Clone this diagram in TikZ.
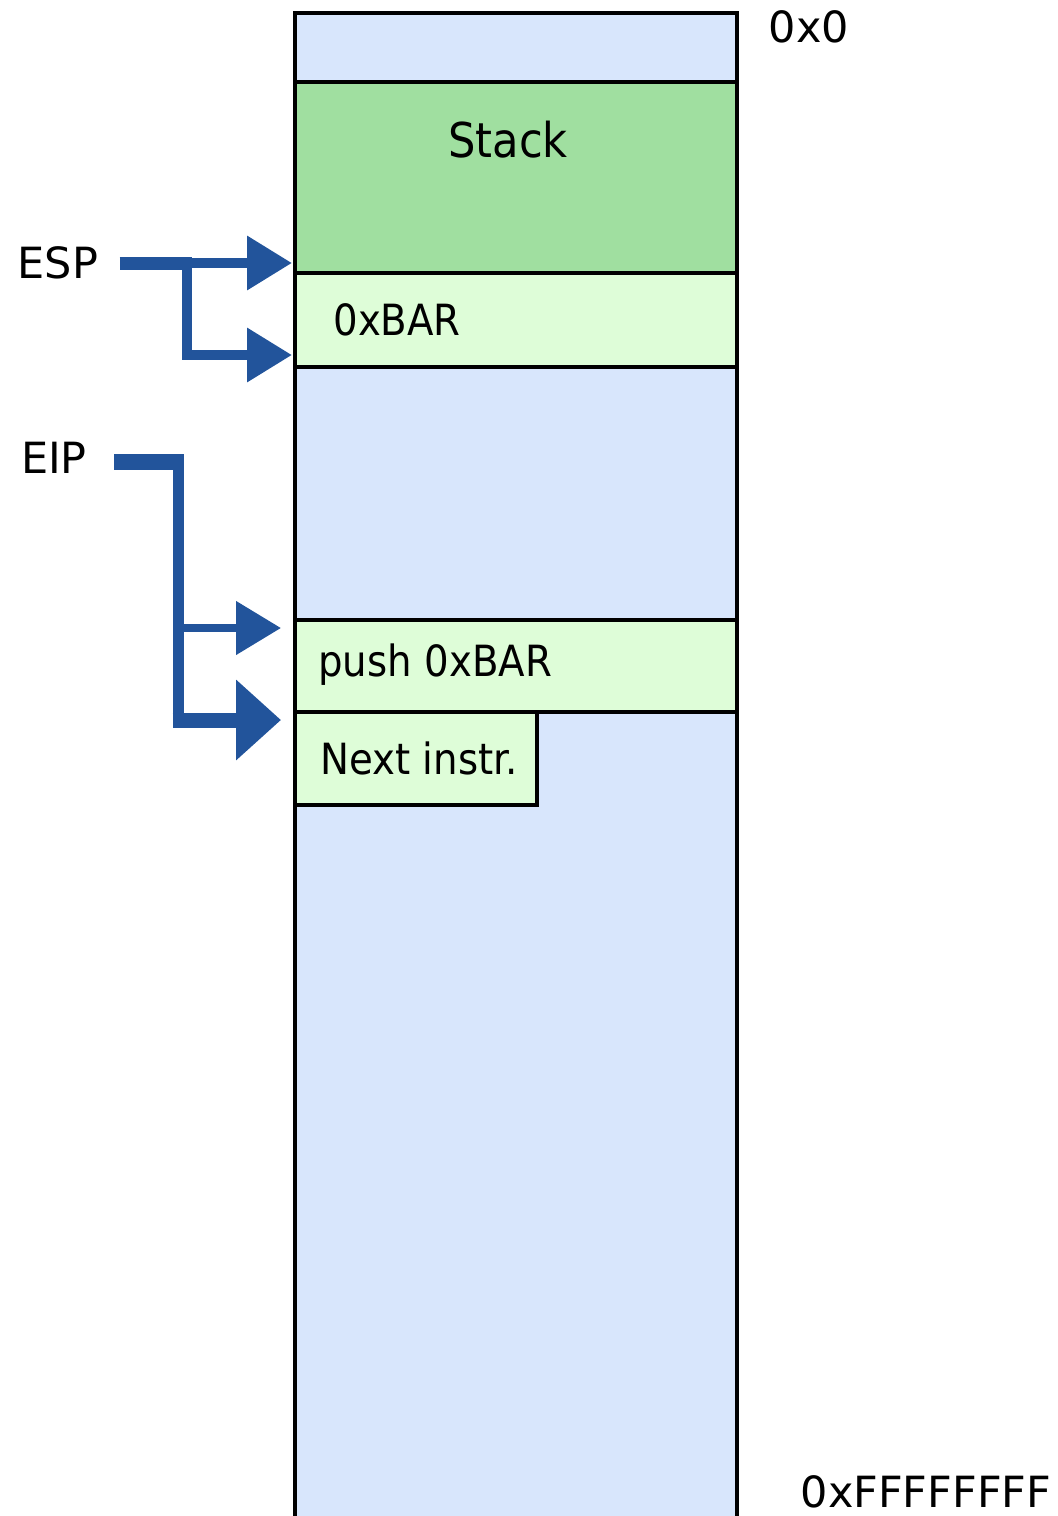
\documentclass[tikz,border=0pt]{standalone}
\usepackage{xcolor}
\usepackage{fontspec}
\setmainfont{DejaVu Sans}
\newfontfamily\celltext{DejaVu Sans}[FakeStretch=0.9]
\usetikzlibrary{arrows.meta}
\definecolor{memblue}{RGB}{216,230,252}
\definecolor{stackgreen}{RGB}{160,223,160}
\definecolor{cellgreen}{RGB}{222,253,216}
\definecolor{ptrblue}{RGB}{34,84,155}
\begin{document}
\begin{tikzpicture}[
  x=0.5pt, y=-0.5pt,
  every node/.style={inner sep=0pt, font=\fontsize{21.5}{24}\selectfont},
  cell/.style={draw, line width=2pt, outer sep=0pt, anchor=north west, minimum width=221pt},
  label/.style={anchor=west, font=\celltext\fontsize{21.5}{24}\selectfont},
  bus/.style={draw=ptrblue, line width=5pt},
  tip/.style={-{Triangle[length=22.5pt, width=26pt]}},
  bigtip/.style={-{Triangle[length=22.5pt, width=39pt]}}
]
\useasboundingbox (0,0) rectangle (1058,1516);
\draw[line width=2pt, fill=memblue] (295,1530) -- (295,13) -- (737,13) -- (737,1530);
\node[cell, fill=stackgreen, minimum height=95.5pt] (stack) at (295,82) {};
\node[cell, fill=cellgreen, minimum height=47pt] (bar) at (295,273) {};
\node[cell, fill=cellgreen, minimum height=46pt] (push) at (295,620) {};
\node[cell, fill=cellgreen, minimum height=46.5pt, minimum width=121pt] (next) at (295,712) {};

\node[font=\celltext\fontsize{24}{28}\selectfont] (stackText) at (508,140) {Stack};
\node[label] (barText) at (333,320) {0xBAR};
\node[label] (pushText) at (318,665) {push 0xBAR};
\node[label] (nextText) at (320,758) {Next instr.};
\node (top) at (809,27) {0x0};
\node (bottom) at (926,1492) {0xFFFFFFFF};

\node (esp) at (58,263) {ESP};
\node (eip) at (54,458) {EIP};

\coordinate (espFork) at (187,263);
\coordinate (espTipA) at ([xshift=-1.5pt, yshift=5pt]stack.south west);
\coordinate (espTipB) at ([xshift=-1.5pt, yshift=6pt]bar.south west);
\draw[bus, line width=6.5pt] ([xshift=10.5pt]esp.east |- espFork) -- ([xshift=2.5pt]espFork);
\draw[bus, tip] (espFork) -- (espFork -| espTipA);
\draw[bus, tip] ([yshift=3pt]espFork) |- (espTipB);

\coordinate (eipFork) at (178,462);
\coordinate (pushTip) at ([xshift=-7pt, yshift=-4pt]push.north west);
\coordinate (nextTip) at ([xshift=-7pt, yshift=-4pt]next.north west);
\draw[bus, line width=8pt] ([xshift=13.5pt]eip.east |- eipFork) -- ([xshift=2.75pt]eipFork);
\draw[bus, line width=5.5pt] ([yshift=4pt]eipFork) -- ([yshift=-3.75pt]eipFork |- nextTip);
\draw[bus, line width=4pt, tip] (eipFork |- pushTip) -- (pushTip);
\draw[bus, line width=7.5pt, bigtip] ([xshift=-2.75pt]eipFork |- nextTip) -- (nextTip);
\end{tikzpicture}
\end{document}
